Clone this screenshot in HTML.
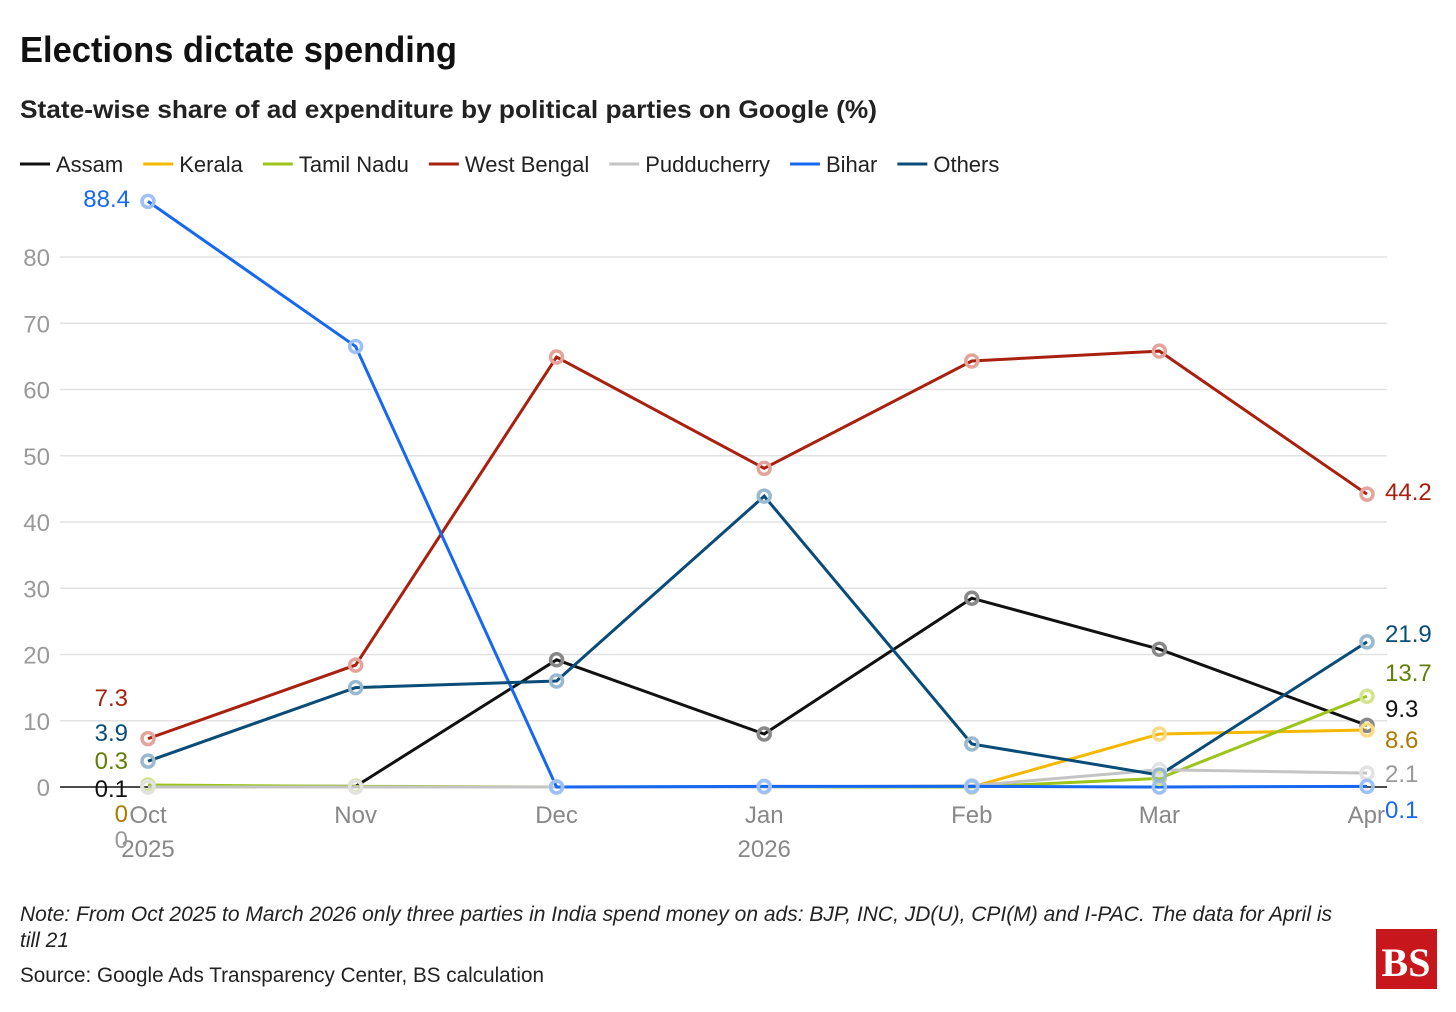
<!DOCTYPE html>
<html><head><meta charset="utf-8"><style>
body{margin:0;background:#fff;width:1456px;height:1007px;overflow:hidden;font-family:"Liberation Sans",sans-serif}
svg text{font-family:"Liberation Sans",sans-serif}
</style></head><body>
<svg id="c" width="1456" height="1007">
<text x="20" y="62" font-size="36" font-weight="bold" fill="#111" textLength="437" lengthAdjust="spacingAndGlyphs">Elections dictate spending</text>
<text x="20" y="118" font-size="25" font-weight="bold" fill="#222" textLength="857" lengthAdjust="spacingAndGlyphs">State-wise share of ad expenditure by political parties on Google (%)</text>
<g id="legend"></g>
<g id="grid"></g>
<g id="series"></g>
<text x="20" y="921" font-size="21" font-style="italic" fill="#222" textLength="1312" lengthAdjust="spacingAndGlyphs">Note: From Oct 2025 to March 2026 only three parties in India spend money on ads: BJP, INC, JD(U), CPI(M) and I-PAC. The data for April is</text>
<text x="20" y="947" font-size="21" font-style="italic" fill="#222">till 21</text>
<text x="20" y="982" font-size="21" fill="#222" textLength="524" lengthAdjust="spacingAndGlyphs">Source: Google Ads Transparency Center, BS calculation</text>
<g><rect x="1376" y="929" width="61" height="60" fill="#c8161d"/><text x="1406" y="976" font-size="40" font-weight="bold" text-anchor="middle" fill="#fff" style="font-family:'Liberation Serif',serif">BS</text></g>
</svg>
<script>
const months=["Oct","Nov","Dec","Jan","Feb","Mar","Apr"];
const dayOffsets=[0,31,61,92,123,151,182];
const yTicks=[0,10,20,30,40,50,60,70,80];
const names=["Assam","Kerala","Tamil Nadu","West Bengal","Pudducherry","Bihar","Others"];
const colors=["#111111","#f5b800","#9dc41a","#a9200f","#c4c4c4","#1668f0","#0a4c78"];
const light=["#888","#f8dc85","#d3e48f","#e3a49c","#e2e2e2","#9ec0f8","#9ab9cf"];
const assam=[0.1,0.1,19.2,8,28.5,20.8,9.3];
const kerala=[0,0,0,0,0,8,8.6];
const tamilNadu=[0.3,0.1,0,0,0,1.3,13.7];
const westBengal=[7.3,18.4,64.9,48.1,64.3,65.8,44.2];
const pudducherry=[0,0,0,0,0.2,2.6,2.1];
const bihar=[88.4,66.5,0,0.1,0.1,0,0.1];
const others=[3.9,15,16,43.9,6.5,1.8,21.9];
const series=[assam,kerala,tamilNadu,westBengal,pudducherry,bihar,others];
const NS="http://www.w3.org/2000/svg";
const x=d=>148+d*(1367-148)/182;
const y=v=>787-v*(787-257)/80;
function mk(t,a,p){const e=document.createElementNS(NS,t);for(const k in a)e.setAttribute(k,a[k]);p.appendChild(e);return e;}
const grid=document.getElementById('grid'),ser=document.getElementById('series'),leg=document.getElementById('legend');
yTicks.forEach(t=>{
 if(t>0){const l=mk('line',{x1:60,x2:1387,y1:y(t),y2:y(t),stroke:'#e2e2e2','stroke-width':1.5},grid);
 
 }
 const tx=mk('text',{x:50,y:y(t)+9,'font-size':24,fill:'#999','text-anchor':'end'},grid);tx.textContent=t;
 
 
});
const base=mk('line',{x1:60,x2:1387,y1:y(0),y2:y(0),stroke:'#111','stroke-width':1.5},grid);


months.forEach((m,i)=>{
 const tx=mk('text',{x:x(dayOffsets[i]),y:823,'font-size':24,fill:'#888','text-anchor':i==6?'end':'middle'},grid);tx.textContent=m;
 if(i==6)tx.setAttribute('x',x(dayOffsets[i])+18);
 
 
});
[[0,"2025"],[3,"2026"]].forEach(([i,s])=>{const tx=mk('text',{x:x(dayOffsets[i]),y:857,'font-size':24,fill:'#888','text-anchor':'middle'},grid);tx.textContent=s;
 
 });
let lx=20;
names.forEach((n,i)=>{
 const g=mk('g',{},leg);
 
 
 mk('line',{x1:lx,x2:lx+30,y1:164,y2:164,stroke:colors[i],'stroke-width':3},g);
 const t=mk('text',{x:lx+36,y:172,'font-size':22,fill:'#222'},g);t.textContent=n;
 lx+=36+t.getComputedTextLength()+20;
});
series.forEach((s,i)=>{
 const pts=s.map((v,j)=>x(dayOffsets[j])+','+y(v)).join(' ');
 const pl=mk('polyline',{points:pts,fill:'none',stroke:colors[i],'stroke-width':3},ser);
 
 
});
series.forEach((s,i)=>{s.forEach((v,j)=>{
 const c=mk('circle',{cx:x(dayOffsets[j]),cy:y(v),r:6,fill:'none',stroke:light[i],'stroke-width':3.5},ser);
 
 
});});
const lab=[[5,0,88.4,130,207,'#1668f0','end'],[3,0,7.3,128,706,'#a9200f','end'],[6,0,3.9,128,741,'#0a4c78','end'],[2,0,0.3,128,769,'#5f7f0a','end'],[0,0,0.1,128,797,'#111','end'],[1,0,0,128,822,'#b07800','end'],[4,0,0,128,848,'#999','end'],
[3,6,44.2,1385,500,'#a9200f','start'],[6,6,21.9,1385,642,'#0a4c78','start'],[2,6,13.7,1385,681,'#5f7f0a','start'],[0,6,9.3,1385,717,'#111','start'],[1,6,8.6,1385,748,'#b07800','start'],[4,6,2.1,1385,782,'#999','start'],[5,6,0.1,1385,818,'#1668f0','start']];
lab.forEach(([si,j,v,lx2,ly,c,a])=>{const t=mk('text',{x:lx2,y:ly,'font-size':24,fill:c,'text-anchor':a},ser);t.textContent=series[si][j];
 
 });
</script>
</body></html>
